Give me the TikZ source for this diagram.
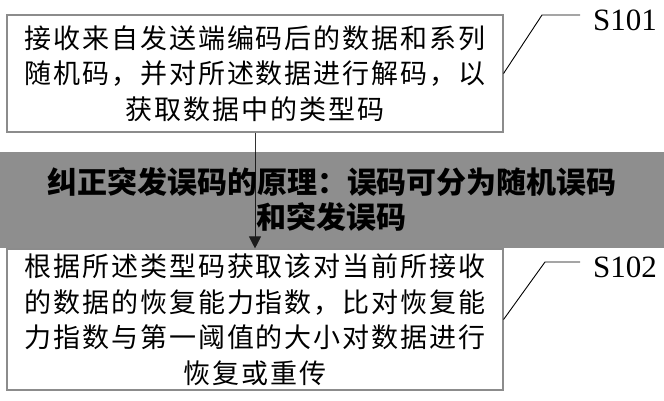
\documentclass[tikz,border=0pt]{standalone}
\usepackage{fontspec}
\setmainfont{Noto Sans CJK SC}
\newfontfamily\stepfont{Liberation Serif}
\newfontfamily\bannerfont{Noto Sans CJK SC Black}
\usetikzlibrary{arrows.meta}
\definecolor{boxgray}{gray}{0.55}

\begin{document}
\begin{tikzpicture}[x=1pt, y=-1pt,
	stepbox/.style={draw=boxgray, line width=1.1pt, minimum width=496pt, inner sep=0pt, text width=480pt, align=center, font={\fontsize{27}{35.5}\selectfont\addfontfeature{LetterSpace=7}}},
	steplabel/.style={anchor=west, inner sep=0pt, font={\stepfont\fontsize{31}{31}\selectfont}},
	leader/.style={line width=0.9pt}]
	
	\useasboundingbox (0,0) rectangle (664,400);
	
	\node[stepbox, minimum height=117pt] (box1) at (255,73.5) {接收来自发送端编码后的数据和系列\\随机码，并对所述数据进行解码，以\\获取数据中的类型码};
	\node[stepbox, minimum height=141pt] (box2) at (255,319.5) {根据所述类型码获取该对当前所接收\\的数据的恢复能力指数，比对恢复能\\力指数与第一阈值的大小对数据进行\\恢复或重传};
	
	\node[steplabel] (s101) at (593,20.5) {S101};
	\node[steplabel] (s102) at (593,267.5) {S102};
	
	\draw[leader] (box1.east) -- ([xshift=-51pt,yshift=5.5pt]s101.west) -- ([xshift=-13pt,yshift=5.5pt]s101.west);
	\draw[leader] (box2.east) -- ([xshift=-48pt,yshift=5.5pt]s102.west) -- ([xshift=-13pt,yshift=5.5pt]s102.west);
	
	\draw[line width=1pt, black!80, -{Triangle[width=12pt,length=12pt]}] (box1.south) -- (box2.north);
	
	\node[fill=black, fill opacity=0.443, text opacity=1, minimum width=664pt, minimum height=96pt, inner sep=0pt, text width=620pt, align=center, font={\bannerfont\fontsize{30}{35}\selectfont}] (banner) at (332,200) {纠正突发误码的原理：误码可分为随机误码\\和突发误码};
	
\end{tikzpicture}
\end{document}
